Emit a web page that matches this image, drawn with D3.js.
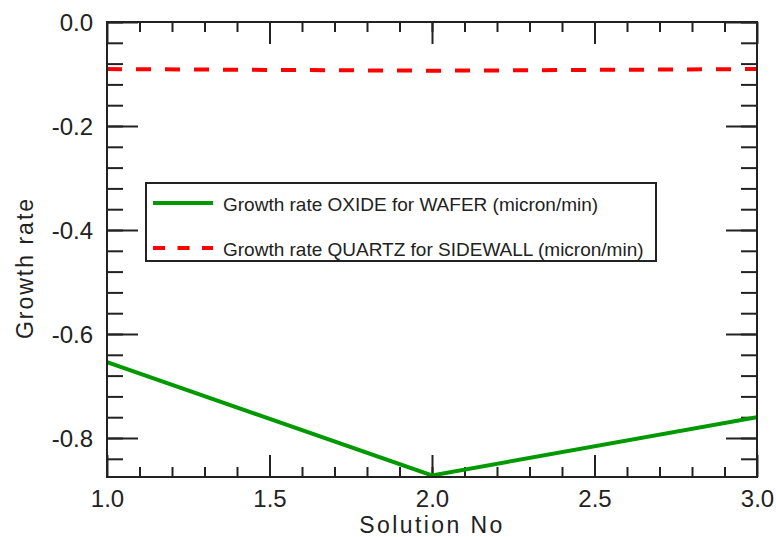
<!DOCTYPE html>
<html>
<head>
<meta charset="utf-8">
<script src="https://cdn.jsdelivr.net/npm/d3@7"></script>
<style>
  body { margin: 0; background: #fff; }
  text { font-family: "Liberation Sans", Arial, sans-serif; fill: #222; }
</style>
</head>
<body>
<div id="chart"></div>
<script>
// data
const solutionNo = [1.0, 2.0, 3.0];
const oxideWafer = [-0.654, -0.872, -0.760];
const quartzSidewall = [-0.0905, -0.0937, -0.0905];
const seriesNames = ["Growth rate OXIDE for WAFER (micron/min)",
                     "Growth rate QUARTZ for SIDEWALL (micron/min)"];
const xTicks = [1.0, 1.5, 2.0, 2.5, 3.0];
const yTicks = [0.0, -0.2, -0.4, -0.6, -0.8];

const W = 776, H = 537;
const margin = {top: 22, right: 19, bottom: 60, left: 107};
const width = W - margin.left - margin.right;
const height = H - margin.top - margin.bottom;

const svg = d3.select("#chart").append("svg")
    .attr("width", W)
    .attr("height", H);

const chart = svg.append("g")
    .attr("transform", "translate(" + margin.left + "," + margin.top + ")");

const x = d3.scaleLinear().domain([1, 3]).range([0, width]);
const y = d3.scaleLinear().domain([-0.875, 0]).range([height, 0]);

chart.append("clipPath").attr("id", "clip")
  .append("rect").attr("width", width).attr("height", height);

const xMinor = d3.range(11, 30).map(d => d / 10);
const yMinor = d3.range(-21, 1).map(d => d * 0.04).filter(d => d >= -0.875);

// plain hyphen instead of d3's unicode minus
const fmt = function(d) { return d3.format(".1f")(d).replace("\u2212", "-"); };

function tidy(g) {
  g.select(".domain").remove();
  g.selectAll(".tick line").attr("stroke", "#222").attr("stroke-width", 2);
}

// bottom + top axes
chart.append("g").attr("transform", "translate(0," + height + ")")
  .call(d3.axisBottom(x).tickValues(xMinor).tickSize(-10).tickFormat(""))
  .call(tidy);
chart.append("g").attr("transform", "translate(0," + height + ")")
  .call(d3.axisBottom(x).tickValues(xTicks).tickSize(-22).tickPadding(30).tickFormat(fmt))
  .call(tidy)
  .selectAll("text").attr("font-size", 24).attr("dy", 0);
chart.append("g")
  .call(d3.axisTop(x).tickValues(xMinor).tickSize(-10).tickFormat(""))
  .call(tidy);
chart.append("g")
  .call(d3.axisTop(x).tickValues(xTicks).tickSize(-22).tickFormat(""))
  .call(tidy);

// left + right axes
chart.append("g")
  .call(d3.axisLeft(y).tickValues(yMinor).tickSize(-16).tickFormat(""))
  .call(tidy);
chart.append("g")
  .call(d3.axisLeft(y).tickValues(yTicks).tickSize(-31).tickPadding(14).tickFormat(fmt))
  .call(tidy)
  .selectAll("text").attr("font-size", 24).attr("dy", "0.35em");
chart.append("g").attr("transform", "translate(" + width + ",0)")
  .call(d3.axisRight(y).tickValues(yMinor).tickSize(-16).tickFormat(""))
  .call(tidy);
chart.append("g").attr("transform", "translate(" + width + ",0)")
  .call(d3.axisRight(y).tickValues(yTicks).tickSize(-31).tickFormat(""))
  .call(tidy);

// the lines
const line = d3.line()
    .x(function(d) { return x(d[0]); })
    .y(function(d) { return y(d[1]); });

const plot = chart.append("g").attr("clip-path", "url(#clip)");

plot.append("path")
  .datum(d3.zip(solutionNo, oxideWafer))
  .attr("fill", "none")
  .attr("stroke", "#009a00")
  .attr("stroke-width", 4)
  .attr("d", line);

plot.append("path")
  .datum(d3.zip(solutionNo, quartzSidewall))
  .attr("fill", "none")
  .attr("stroke", "#ff0000")
  .attr("stroke-width", 4)
  .attr("stroke-dasharray", "15,14")
  .attr("d", line);

// frame
chart.append("rect")
  .attr("width", width).attr("height", height)
  .attr("fill", "none").attr("stroke", "#222").attr("stroke-width", 2);

// axis titles
chart.append("text")
  .attr("x", width / 2)
  .attr("y", height + 56)
  .attr("text-anchor", "middle")
  .attr("font-size", 23)
  .attr("letter-spacing", 2.4)
  .text("Solution No");

svg.append("text")
  .attr("transform", "translate(33,268) rotate(-90)")
  .attr("text-anchor", "middle")
  .attr("font-size", 23)
  .attr("letter-spacing", 2)
  .text("Growth rate");

// legend
const legend = chart.append("g").attr("transform", "translate(39,161)");
legend.append("rect")
  .attr("width", 510).attr("height", 78)
  .attr("fill", "#fff").attr("stroke", "#222").attr("stroke-width", 2);

const styles = [{color: "#009a00", dash: null}, {color: "#ff0000", dash: "12,12.5"}];
const item = legend.selectAll(".item")
  .data(seriesNames)
  .enter().append("g")
  .attr("class", "item")
  .attr("transform", function(d, i) { return "translate(0," + (20 + i * 45) + ")"; });

item.append("line")
  .attr("x1", 7).attr("x2", 67)
  .attr("stroke", function(d, i) { return styles[i].color; })
  .attr("stroke-width", 4)
  .attr("stroke-dasharray", function(d, i) { return styles[i].dash; });

item.append("text")
  .attr("x", 77)
  .attr("y", 8)
  .attr("font-size", 19)
  .text(function(d) { return d; });
</script>
</body>
</html>
